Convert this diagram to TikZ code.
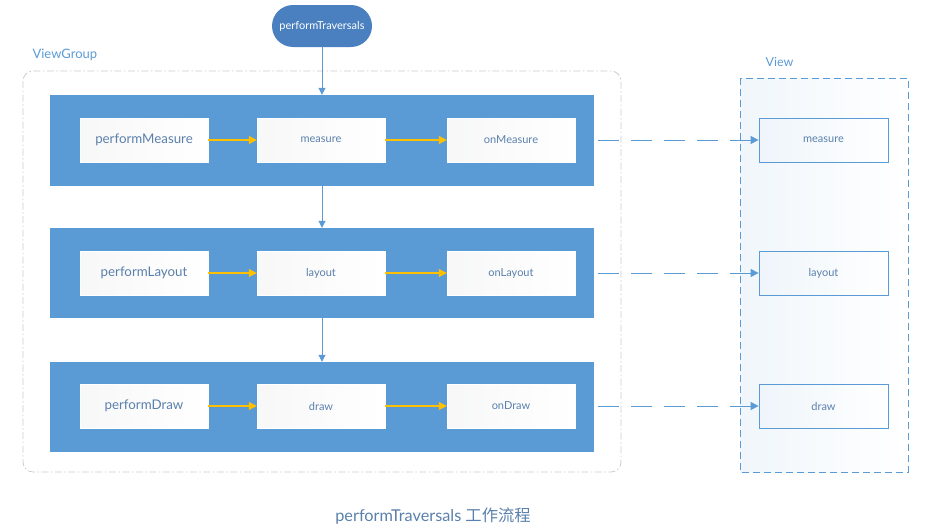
\documentclass[tikz,border=0pt]{standalone}
\usepackage{fontspec}
\setmainfont{Lato}
\newfontfamily\cjk{Noto Sans CJK SC}
\usepackage{tikz}
\usetikzlibrary{calc, positioning, arrows.meta}

\definecolor{panelblue}{HTML}{5B9BD5}
\definecolor{pillblue}{HTML}{4A80BF}
\definecolor{textblue}{HTML}{5A80AC}
\definecolor{flowyellow}{HTML}{FFC000}
\definecolor{groupgray}{HTML}{C8CCD2}

\begin{document}
\begin{tikzpicture}[x=1pt, y=-1pt,
  panel/.style={fill=panelblue, draw=none},
  callbox/.style={draw=white, left color=panelblue!6!gray!6, right color=white,
    minimum width=128pt, minimum height=44pt, text=textblue, inner sep=0pt},
  viewbox/.style={draw=panelblue, line width=0.8pt, left color=panelblue!10, right color=white,
    minimum width=129pt, minimum height=44pt, text=textblue, font=\fontsize{11}{13}\selectfont, inner sep=0pt},
  downarrow/.style={draw=panelblue, line width=1pt, -{Triangle[length=7pt,width=7pt]}},
  callarrow/.style={draw=flowyellow, line width=1.1pt, -{Triangle[length=8pt,width=8pt]}},
  viewarrow/.style={draw=panelblue, line width=1pt, dash pattern=on 21pt off 12pt, dash phase=30pt,
    -{Triangle[length=8pt,width=8pt]}}]

  \useasboundingbox (0,0) rectangle (926,530);

  % containers
  \draw[groupgray, line width=0.8pt, dash pattern=on 7pt off 2.5pt on 1.5pt off 2.5pt, rounded corners=10pt]
    (23,71) rectangle (621,472);
  \node[anchor=west, text=panelblue, font=\fontsize{13}{15}\selectfont] (vglabel) at (29,55) {ViewGroup};

  \draw[panelblue, line width=0.9pt, dash pattern=on 7pt off 4pt, left color=panelblue!9, right color=white]
    (740,78) rectangle (908,472);
  \node[anchor=west, text=panelblue, font=\fontsize{12.5}{15}\selectfont] (vlabel) at (762,62) {View};

  \node[fill=pillblue, rounded corners=21pt, minimum width=100pt, minimum height=42pt,
    text=white, font=\fontsize{11}{13}\selectfont, inner sep=0pt] (traversals) at (322,26) {performTraversals};

  % rows
  \node[panel, minimum width=544pt, minimum height=91pt, inner sep=0pt] (measurerow) at (322,140.5) {};
  \node[panel, minimum width=544pt, minimum height=90pt, inner sep=0pt] (layoutrow) at (322,273) {};
  \node[panel, minimum width=544pt, minimum height=90pt, inner sep=0pt] (drawrow) at (322,407) {};

  \node[callbox, font=\fontsize{13.3}{15}\selectfont] (pmeasure) at (144,140) {performMeasure};
  \node[callbox, font=\fontsize{11}{13}\selectfont] (measurecall) at (321,140) {measure};
  \node[callbox, font=\fontsize{11}{13}\selectfont] (onmeasure) at (511,140) {onMeasure};

  \node[callbox, font=\fontsize{13.3}{15}\selectfont] (playout) at (144,273) {performLayout};
  \node[callbox, font=\fontsize{11}{13}\selectfont] (layoutcall) at (321,273) {layout};
  \node[callbox, font=\fontsize{11}{13}\selectfont] (onlayout) at (511,273) {onLayout};

  \node[callbox, font=\fontsize{13.3}{15}\selectfont] (pdraw) at (144,406) {performDraw};
  \node[callbox, font=\fontsize{11}{13}\selectfont] (drawcall) at (321,406) {draw};
  \node[callbox, font=\fontsize{11}{13}\selectfont] (ondraw) at (511,406) {onDraw};

  \node[viewbox] (vmeasure) at (823.5,140) {measure};
  \node[viewbox] (vlayout) at (823.5,273) {layout};
  \node[viewbox] (vdraw) at (823.5,406) {draw};

  \coordinate (measureout) at ($(measurerow.east |- onmeasure) + (1,0)$);
  \coordinate (layoutout) at ($(layoutrow.east |- onlayout) + (1,0)$);
  \coordinate (drawout) at ($(drawrow.east |- ondraw) + (1,0)$);

  % arrows
  \draw[downarrow] (traversals) -- (measurerow);
  \draw[downarrow] (measurerow) -- (layoutrow);
  \draw[downarrow] (layoutrow) -- (drawrow);

  \draw[callarrow] (pmeasure) -- (measurecall);
  \draw[callarrow] (measurecall) -- (onmeasure);
  \draw[callarrow] (playout) -- (layoutcall);
  \draw[callarrow] (layoutcall) -- (onlayout);
  \draw[callarrow] (pdraw) -- (drawcall);
  \draw[callarrow] (drawcall) -- (ondraw);

  \draw[viewarrow] (measureout) -- (vmeasure.west);
  \draw[viewarrow] (layoutout) -- (vlayout.west);
  \draw[viewarrow] (drawout) -- (vdraw.west);

  \node[text=textblue, font=\fontsize{16.3}{19}\selectfont] (caption) at (433,516)
    {performTraversals {\cjk 工作流程}};
\end{tikzpicture}
\end{document}
